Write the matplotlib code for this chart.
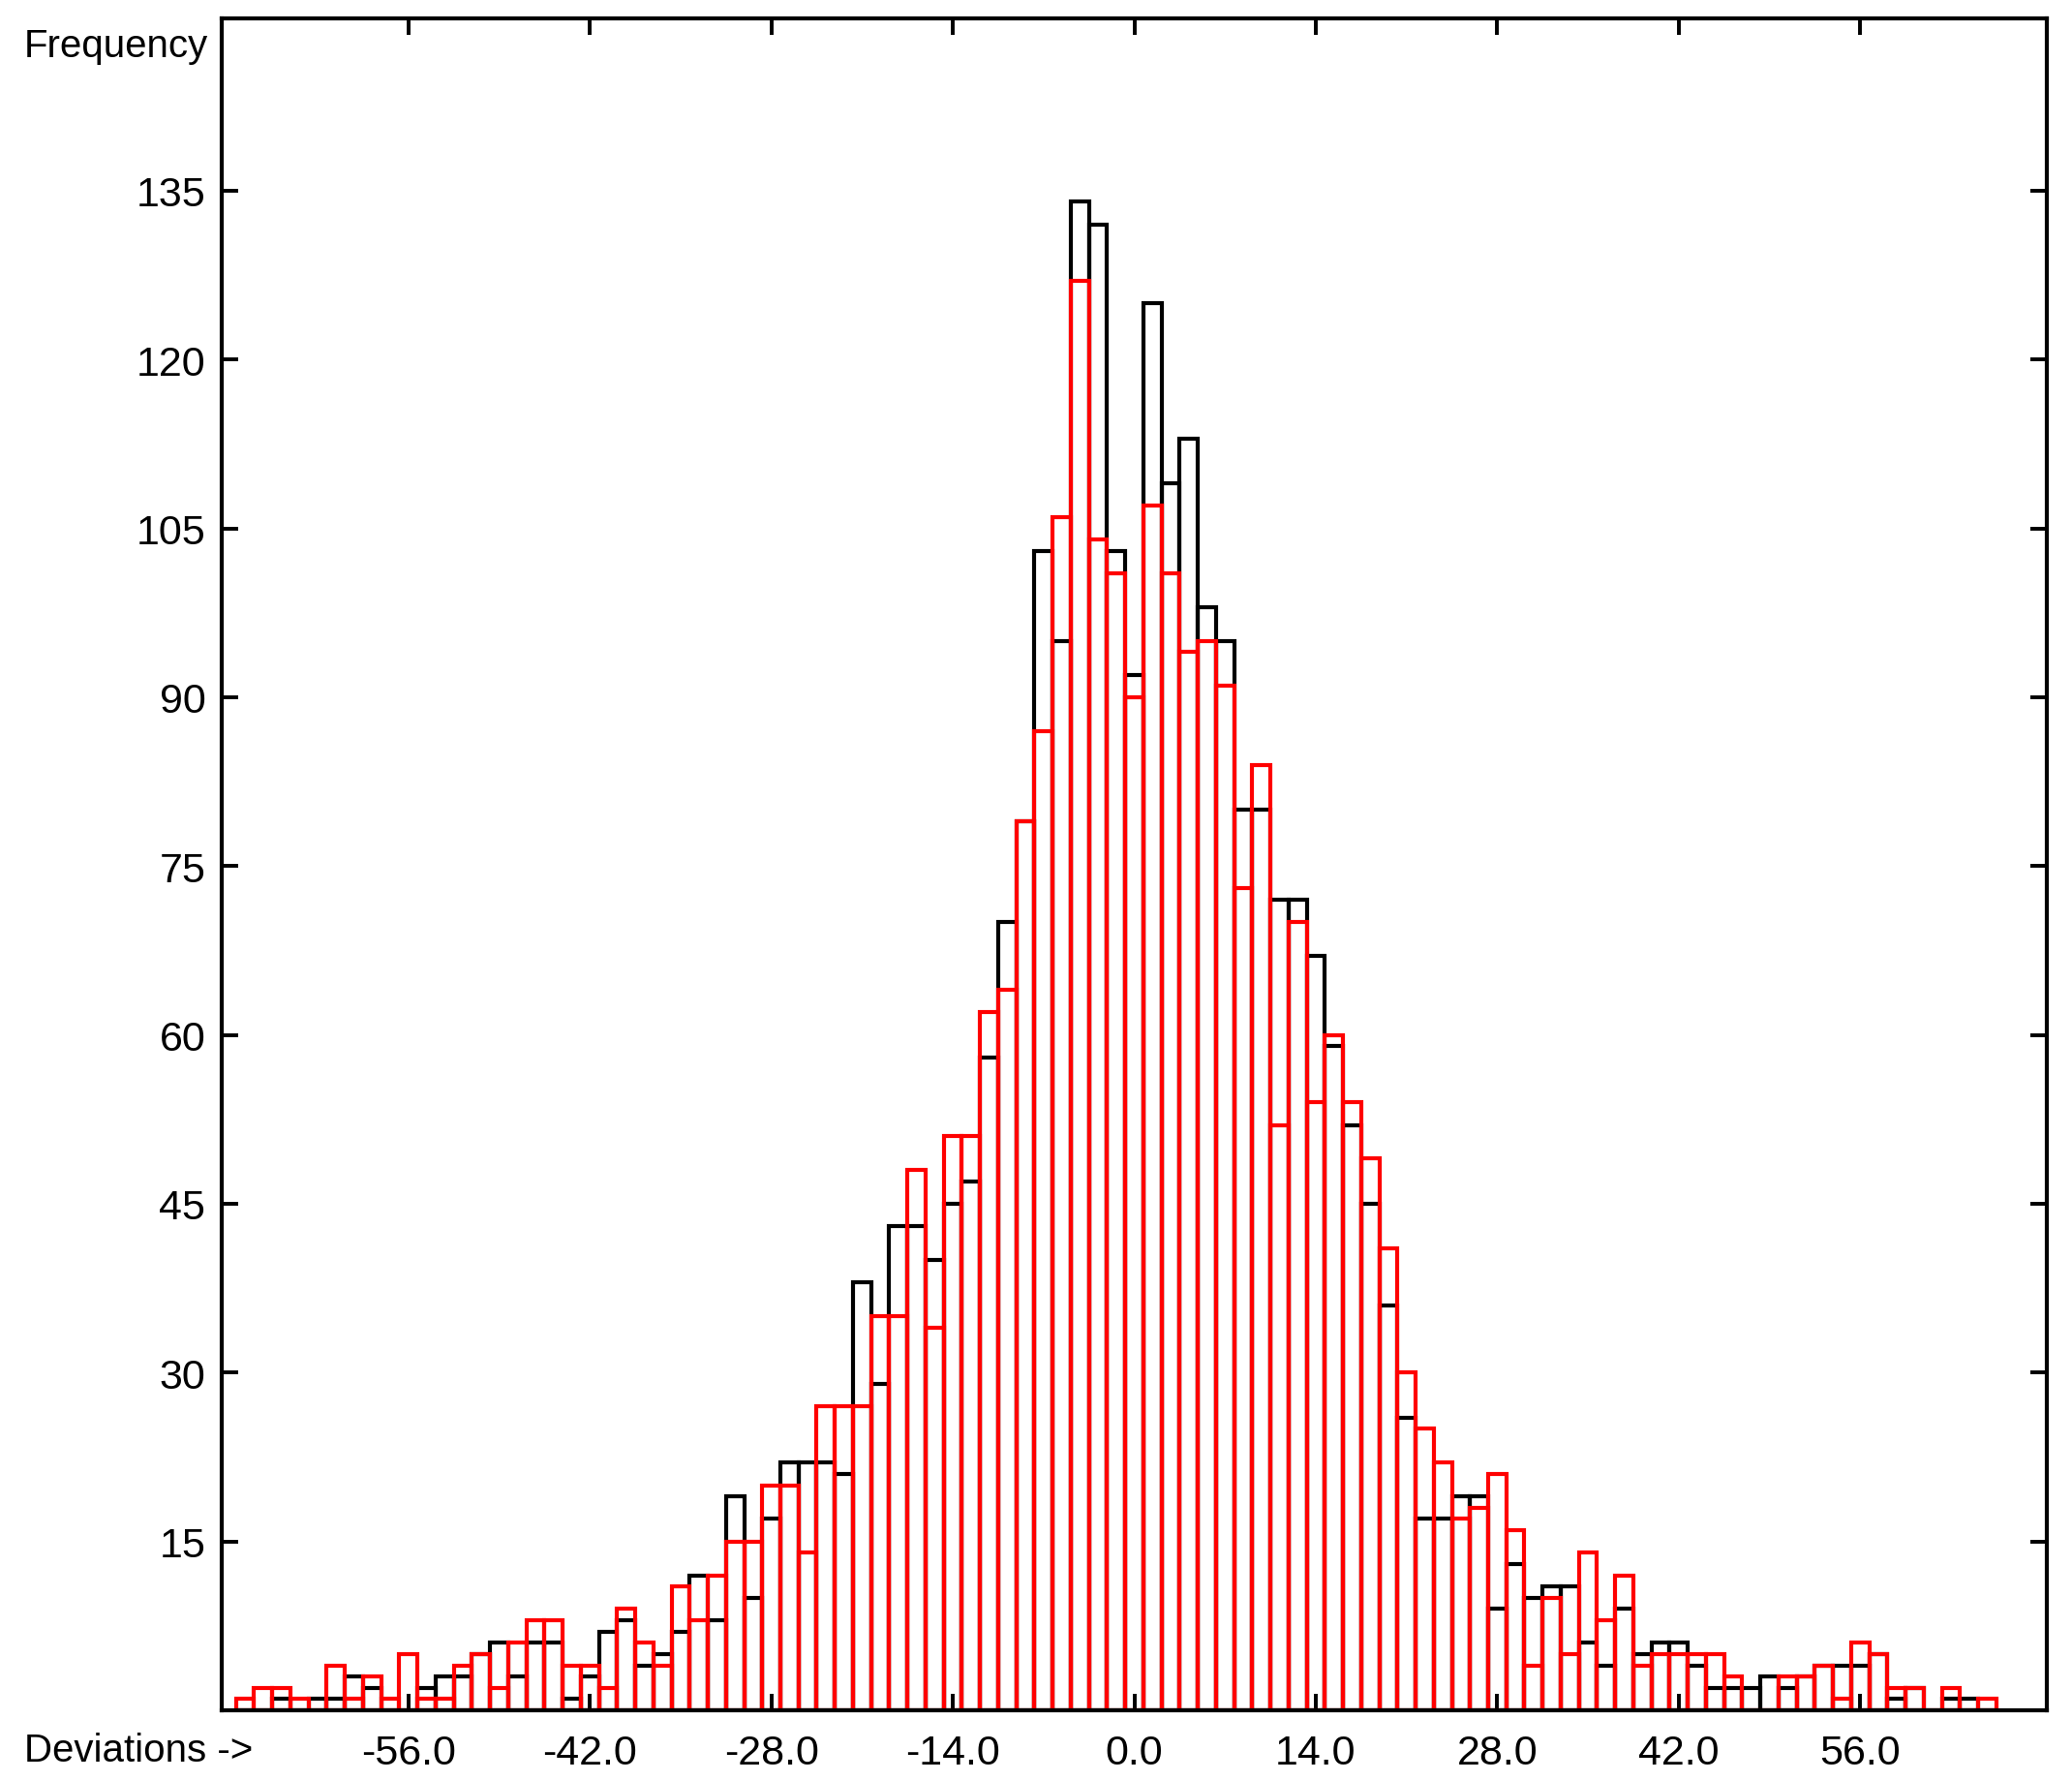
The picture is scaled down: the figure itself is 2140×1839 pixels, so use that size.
import numpy as np
import matplotlib
matplotlib.use("Agg")
import matplotlib.pyplot as plt

plt.rcParams['font.family'] = ['Liberation Sans Narrow', 'Liberation Sans', 'DejaVu Sans']

# Histogram bins (width 1.4, centred on multiples of 1.4)
bin_width = 1.4
first_bin_index = -49  # first bin centred at -68.6

black_counts = [
    0, 0, 1, 0, 1, 1, 3, 2, 0, 0,
    2, 3, 3, 5, 6, 3, 6, 6, 1, 3,
    7, 8, 4, 5, 7, 12, 8, 19, 10, 17,
    22, 22, 22, 21, 38, 29, 43, 43, 40, 45,
    47, 58, 70, 79, 103, 95, 134, 132, 103, 92,
    125, 109, 113, 98, 95, 80, 80, 72, 72, 67,
    59, 52, 45, 36, 26, 17, 17, 19, 19, 9,
    13, 10, 11, 11, 6, 4, 9, 5, 6, 6,
    4, 2, 2, 2, 3, 2, 3, 4, 4, 4,
    5, 1, 2, 0, 1, 1, 0,
]
red_counts = [
    1, 2, 2, 1, 0, 4, 1, 3, 1, 5,
    1, 1, 4, 5, 2, 6, 8, 8, 4, 4,
    2, 9, 6, 4, 11, 8, 12, 15, 15, 20,
    20, 14, 27, 27, 27, 35, 35, 48, 34, 51,
    51, 62, 64, 79, 87, 106, 127, 104, 101, 90,
    107, 101, 94, 95, 91, 73, 84, 52, 70, 54,
    60, 54, 49, 41, 30, 25, 22, 17, 18, 21,
    16, 4, 10, 5, 14, 8, 12, 4, 5, 5,
    5, 5, 3, 0, 0, 3, 3, 4, 1, 6,
    5, 2, 2, 0, 2, 0, 1,
]

x_ticks = [-56.0, -42.0, -28.0, -14.0, 0.0, 14.0, 28.0, 42.0, 56.0]
y_ticks = [15, 30, 45, 60, 75, 90, 105, 120, 135]

bin_index = np.arange(first_bin_index, first_bin_index + len(red_counts))
centers = bin_index * bin_width

W, H = 2140, 1840
dpi = 100
fig = plt.figure(figsize=(W / dpi, H / dpi), dpi=dpi)
ax = fig.add_axes([229 / W, 1 - 1767 / H, (2114 - 229) / W, (1767 - 20) / H])

lw = 3.0
ax.bar(centers, black_counts, width=bin_width, fill=False, edgecolor='#000000',
       linewidth=lw, zorder=2)
ax.bar(centers, red_counts, width=bin_width, fill=False, edgecolor='#ff0000',
       linewidth=lw, zorder=3)

ax.set_xlim(-70.4, 70.4)
ax.set_ylim(0, 150.3)

ax.set_xticks(x_ticks)
ax.set_xticklabels([f"{v:.1f}" for v in x_ticks])
ax.set_yticks(y_ticks)
ax.set_yticklabels([str(v) for v in y_ticks])

ax.tick_params(axis='both', direction='in', length=12, width=2.8,
               top=True, right=True, labelsize=31, colors='black')
ax.tick_params(axis='x', pad=17)
ax.tick_params(axis='y', pad=12)

for s in ax.spines.values():
    s.set_linewidth(3)
    s.set_color('black')
    s.set_zorder(5)

fig.text(25 / W, 1 - 48 / H, "Frequency", ha='left', va='center', fontsize=29)
fig.text(25 / W, 1 - 1808 / H, "Deviations ->", ha='left', va='center', fontsize=29)

fig.savefig("out.png", dpi=dpi, facecolor='white')
